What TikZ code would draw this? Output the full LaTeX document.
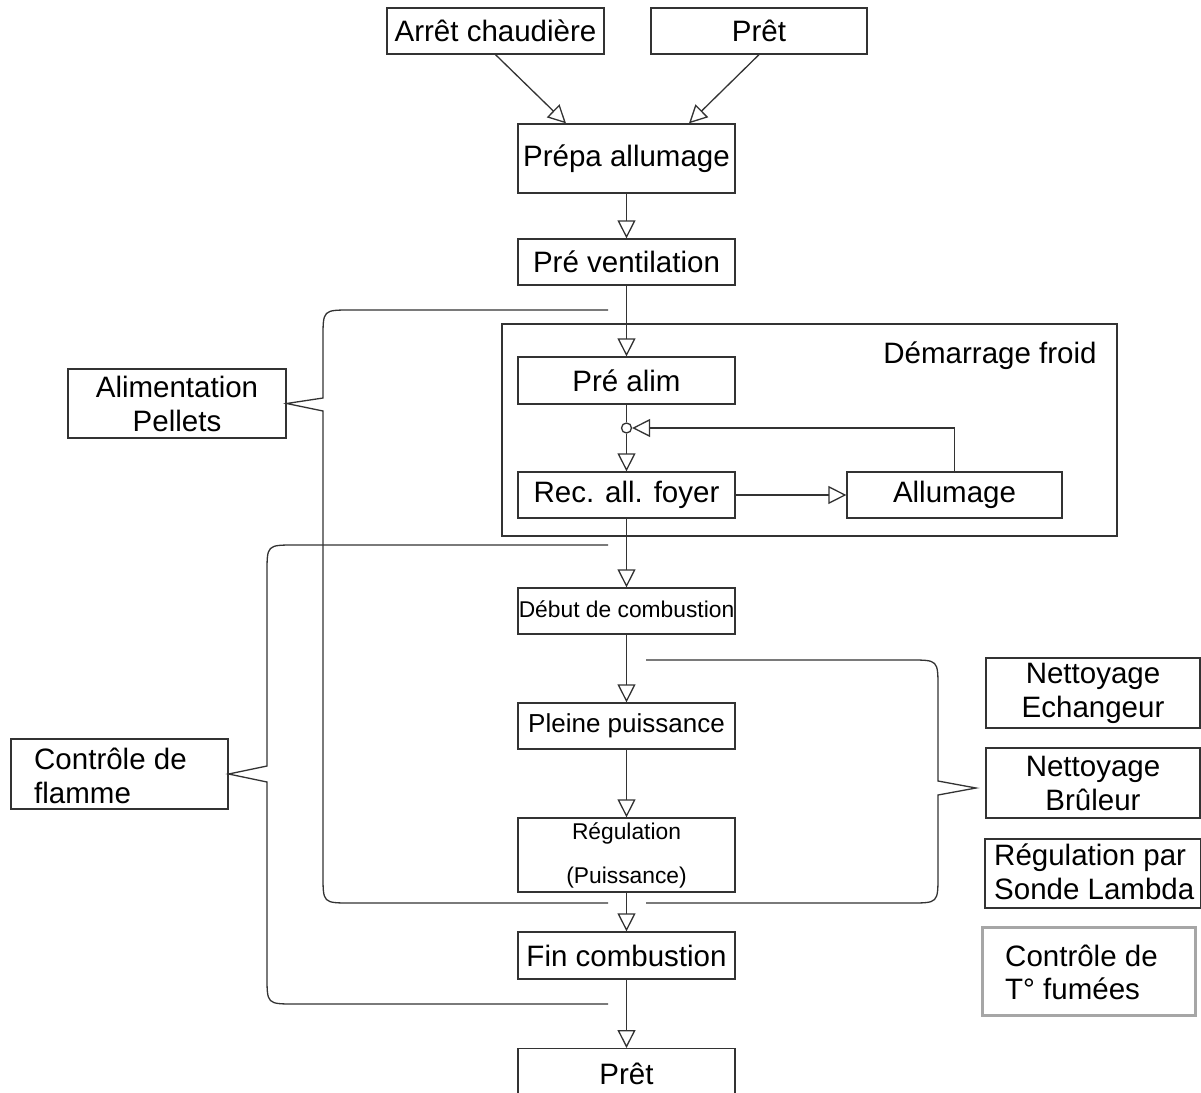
\documentclass[tikz,border=0pt]{standalone}
\usepackage{fontspec}
\setmainfont{Liberation Sans}
\usetikzlibrary{arrows.meta,calc}
\begin{document}
\begin{tikzpicture}[x=1pt,y=-1pt,
  ln/.style={draw=black!80, line width=1.3pt},
  box/.style={ln, rectangle, inner sep=0pt, minimum width=217pt, minimum height=46pt,
    font=\fontsize{29.5}{34}\selectfont, align=center},
  txt/.style={inner sep=0pt, font=\fontsize{29.5}{34}\selectfont},
  arr/.style={ln, -{Triangle[length=18pt,width=18pt,fill=white,line width=1.3pt]}},
  brace/.style={ln}
]
\useasboundingbox (0,0) rectangle (1201,1092);
\clip (0,0) rectangle (1201,1092);
\fill[white] (0,0) rectangle (1201,1092);

% container
\draw[ln] (502,324) rectangle (1117,536);
\node[txt] (demlabel) at (990,356) {Démarrage froid};

% main column
\node[box] (arret) at (495.5,31) {Arrêt chaudière};
\node[box, minimum width=216pt] (pret1) at (759,31) {Prêt};
\node[box, minimum height=69pt] (prepa) at (626.5,158.5) {Prépa allumage};
\node[box] (prevent) at (626.5,262) {Pré ventilation};
\node[box, minimum height=47pt] (prealim) at (626.5,380.5) {Pré alim};
\node[circle, ln, fill=white, minimum size=10pt, inner sep=0pt] (junc) at (626.5,428) {};
\node[box] (rec) at (626.5,495) {Rec. all. foyer};
\node[box, minimum width=215pt] (allum) at (954.5,495) {Allumage};
\node[box, font=\fontsize{22.8}{26}\selectfont] (debut) at (626.5,611) {\raisebox{4pt}{Début de combustion}};
\node[box, font=\fontsize{26}{30}\selectfont] (pleine) at (626.5,726) {\raisebox{3pt}{Pleine puissance}};
\node[box, minimum height=74pt, font=\fontsize{22.8}{44}\selectfont] (regul) at (626.5,855) {Régulation\\(Puissance)};
\node[box, minimum height=47pt] (fin) at (626.5,955.5) {Fin combustion};
\node[box, minimum height=50pt, anchor=north] (pret2) at (626.5,1048) {\raisebox{-4pt}{Prêt}};

% left boxes
\node[box, minimum width=218pt, minimum height=69pt] (alim) at (177,403.5) {Alimentation\\Pellets};
\node[box, minimum height=70pt] (flamme) at (119.5,774) {};
\node[txt, anchor=west, align=left] (flammetxt) at (34,776) {Contrôle de\\flamme};

% right boxes
\node[box, minimum width=214pt, minimum height=70pt] (net1) at (1093,693) {Nettoyage\\Echangeur};
\node[box, minimum width=214pt, minimum height=70pt] (net2) at (1093,783) {Nettoyage\\Brûleur};
\node[box, minimum width=216pt, minimum height=69pt] (lambda) at (1093,873.5) {};
\node[txt, anchor=west, align=left] (lambdatxt) at (994,872) {Régulation par\\Sonde Lambda};
\node[rectangle, draw=black!35, line width=3pt, minimum width=213pt, minimum height=88pt] (tfum) at (1088.5,971) {};
\node[txt, anchor=west, align=left, font=\fontsize{29.5}{33}\selectfont] (tfumtxt) at (1005,972) {Contrôle de\\T° fumées};

% connectors
\draw[arr] (arret.south) -- ($(prepa.north)+(-60.5,0)$);
\draw[arr] (pret1.south) -- ($(prepa.north)+(62.5,0)$);
\draw[arr] (prepa) -- (prevent);
\draw[arr] (prevent) -- (prealim);
\draw[ln] (prealim) -- (junc);
\draw[arr] (junc) -- (rec);
\draw[arr] (rec) -- (allum);
\draw[arr] (allum.north) |- (junc);
\draw[arr] (rec) -- (debut);
\draw[arr] (debut) -- (pleine);
\draw[arr] (pleine) -- (regul);
\draw[arr] (regul) -- (fin);
\draw[arr] (fin) -- (pret2);

% braces
\coordinate (b3tip) at (976,788);
\draw[brace] (608,310) -- (351,310) .. controls (323,310) .. (323,338) -- (323,398)
  -- (alim.east) -- (323,411) -- (323,875) .. controls (323,903) .. (351,903) -- (608,903);
\draw[brace] (608,545) -- (295,545) .. controls (267,545) .. (267,573) -- (267,766)
  -- (flamme.east) -- (267,782) -- (267,976) .. controls (267,1004) .. (295,1004) -- (608,1004);
\draw[brace] (646,660) -- (910,660) .. controls (938,660) .. (938,688) -- (938,781)
  -- (b3tip) -- (938,795) -- (938,875) .. controls (938,903) .. (910,903) -- (646,903);
\end{tikzpicture}
\end{document}
